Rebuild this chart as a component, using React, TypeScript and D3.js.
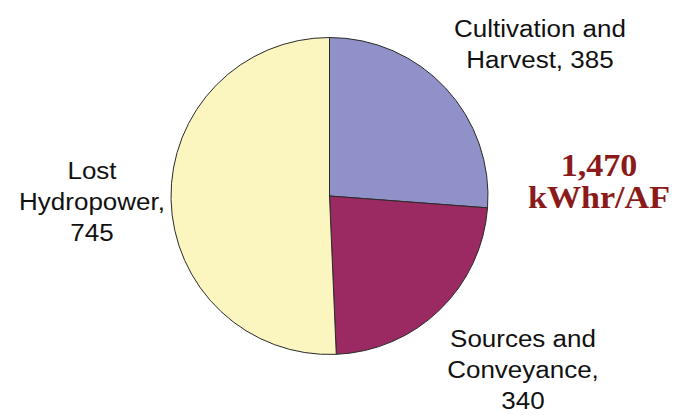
import React from "react";
import * as d3 from "d3";

const categories = ["Cultivation and Harvest", "Sources and Conveyance", "Lost Hydropower"];
const values = [385, 340, 745];
const colors = ["#9191C9", "#9B2A62", "#FBF6C0"];
const labelLines = [
  ["Cultivation and", "Harvest, 385"],
  ["Sources and", "Conveyance,", "340"],
  ["Lost", "Hydropower,", "745"],
];
const totalLines = ["1,470", "kWhr/AF"];

const W = 674, H = 417;
const cx = 329.5, cy = 196, R = 158.5;

const labelPos: [number, number][] = [
  [540, 37],
  [523, 347],
  [92, 179],
];

export default function App() {
  const pie = d3.pie<number>().sort(null).value((d) => d)(values);
  const arc = d3.arc<d3.PieArcDatum<number>>().innerRadius(0).outerRadius(R);
  const sx = 1.13;
  return (
    <svg width={W} height={H} style={{ position: "absolute", left: 0, top: 0, background: "#fff" }}>
      <rect width={W} height={H} fill="#fff" />
      <g transform={`translate(${cx},${cy})`}>
        {pie.map((p, i) => (
          <path key={categories[i]} d={arc(p) || ""} fill={colors[i]} stroke="#2a2a2a" strokeWidth={1} />
        ))}
      </g>
      {labelLines.map((lines, i) =>
        lines.map((t, j) => (
          <text
            key={`${i}-${j}`}
            transform={`translate(${labelPos[i][0]},${labelPos[i][1] + j * 31}) scale(${sx},1)`}
            textAnchor="middle"
            fontFamily="Liberation Sans, Arial, sans-serif"
            fontSize={23}
            fill="#111"
          >
            {t}
          </text>
        ))
      )}
      {totalLines.map((t, j) => (
        <text
          key={t}
          transform={`translate(599,${176 + j * 32}) scale(1.1,1)`}
          textAnchor="middle"
          fontFamily="Liberation Serif, Times New Roman, serif"
          fontWeight="bold"
          fontSize={31}
          fill="#8B1A1A"
        >
          {t}
        </text>
      ))}
    </svg>
  );
}
